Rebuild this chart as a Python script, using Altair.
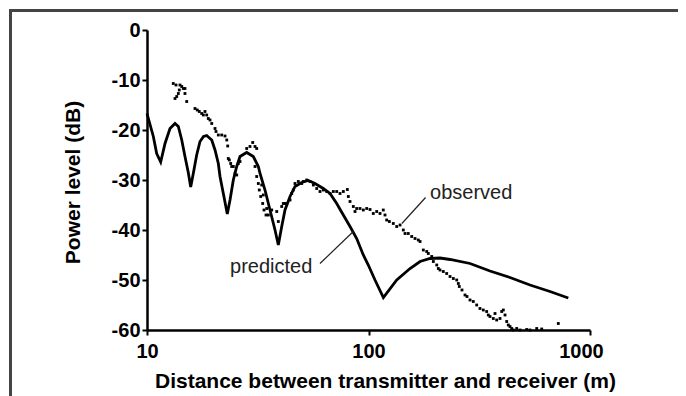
import altair as alt
import pandas as pd

# Predicted (two-ray) curve
pred_d = [10.0, 10.68, 11.06, 11.53, 12.06, 12.70, 13.38, 13.85, 14.35, 14.84, 15.36, 15.75, 16.18, 16.76,
          17.35, 18.0, 18.60, 19.60, 20.28, 20.99, 21.36, 22.11, 23.04, 23.70, 24.53, 25.41, 26.30, 28.19,
          30.20, 31.81, 32.38, 34.10, 35.92, 37.84, 39.16, 40.57, 41.98, 44.23, 46.58, 49.94, 53.47, 57.34,
          62.51, 67.03, 71.86, 76.97, 82.52, 88.45, 94.74, 99.8, 107.0, 116.7, 134.1, 154.0, 170.9, 189.6,
          210.3, 233.4, 287.3, 353.6, 435.3, 535.9, 659.8, 798.1]
pred_db = [-16.7, -21.3, -24.7, -26.4, -22.7, -19.7, -18.7, -19.3, -22.0, -25.3, -28.5, -31.4, -28.7, -25.0,
           -22.3, -21.3, -21.1, -22.0, -24.0, -26.7, -29.3, -32.7, -36.8, -34.0, -30.0, -27.3, -25.3, -24.5,
           -25.3, -27.3, -28.7, -32.0, -36.0, -40.0, -43.0, -39.3, -36.0, -33.3, -31.3, -30.5, -30.1, -30.7,
           -31.7, -32.7, -34.7, -37.0, -39.3, -41.7, -45.0, -47.0, -50.0, -53.5, -50.0, -47.7, -46.3, -45.7,
           -45.6, -45.9, -46.7, -48.2, -49.5, -51.0, -52.3, -53.6]

obs_d = [13.14, 13.52, 14.09, 14.35, 14.58, 14.84, 13.99, 13.85, 13.62, 13.38, 14.84, 15.11,
         16.47, 16.87, 17.22, 17.66, 17.96, 18.27, 18.60, 18.91, 19.25, 19.60,
         20.28, 20.49, 20.99, 21.74, 22.50, 22.91, 23.14, 23.28, 23.53, 23.87, 24.12, 24.53, 24.97, 25.41, 25.84, 26.30,
         28.19, 29.17, 30.01, 30.74, 31.28,
         30.74, 31.28, 31.81, 32.14, 32.61, 33.29, 33.75, 34.46, 35.29, 36.56, 38.52, 39.16, 40.57, 41.98,
         32.95, 33.50, 34.71,
         41.24, 42.73, 44.23, 45.02, 45.77, 46.58, 48.21, 49.94, 50.77, 52.60, 54.44, 56.36, 58.38, 60.40, 62.51,
         64.77, 67.03, 69.36, 71.86, 74.37, 76.97, 80.25, 81.09, 82.52, 85.40, 86.93, 88.45, 91.54, 94.74, 98.15,
         101.6, 105.1, 108.9, 112.7, 116.6, 118.7, 120.8, 124.2,
         129.4, 134.1, 138.8, 143.6, 146.2, 151.2, 156.7, 162.2, 167.8, 170.9, 176.8, 183.2, 186.2, 192.9, 196.2,
         203.3, 206.6, 210.3, 217.6, 225.4, 233.4, 241.5, 250.2, 254.4, 257.0,
         264.3, 272.7, 278.4,
         287.3, 297.2, 307.9, 318.6, 329.8, 341.6, 347.4, 353.6, 365.9, 372.5, 379.1, 392.4, 399.4, 406.1, 413.4,
         420.7, 427.8, 435.4, 443.1, 450.6, 466.8, 483.1, 517.8, 535.9, 574.8, 605.3, 719.3]
obs_db = [-10.7, -11.0, -11.0, -11.3, -11.7, -11.7, -12.0, -12.7, -13.3, -13.7, -12.7, -14.3,
          -15.7, -16.0, -16.3, -16.7, -17.0, -16.3, -17.0, -17.7, -18.0, -18.7,
          -19.7, -20.3, -21.0, -21.0, -21.2, -22.0, -23.2, -25.7, -26.0, -26.7, -27.3, -27.3, -28.7, -29.0, -26.7, -26.3,
          -23.7, -23.3, -22.5, -23.3, -23.7,
          -27.3, -29.3, -30.7, -32.0, -33.3, -34.7, -36.0, -37.0, -37.0, -36.0, -36.3, -38.3, -35.3, -34.7,
          -31.0, -33.0, -35.7,
          -34.7, -34.7, -34.0, -32.7, -32.0, -30.7, -30.3, -30.7, -30.3, -30.0, -30.3, -31.0, -31.7, -32.3, -32.0,
          -32.3, -32.7, -32.3, -32.3, -32.7, -32.3, -31.9, -33.3, -34.3, -35.3, -36.3, -35.7, -35.7, -36.0, -35.7,
          -35.9, -36.7, -36.3, -36.7, -36.0, -37.0, -38.0, -38.3,
          -38.7, -39.3, -39.0, -40.0, -40.7, -40.7, -41.3, -41.7, -42.0, -42.3, -44.0, -44.3, -44.7, -45.3, -46.3,
          -47.0, -47.7, -48.0, -48.3, -48.7, -49.3, -49.7, -50.0, -50.7, -51.3,
          -52.0, -53.0, -53.3,
          -54.0, -54.3, -55.0, -55.7, -56.0, -56.3, -57.0, -57.3, -57.7, -56.7, -58.0, -57.7, -56.3, -56.0, -57.0,
          -58.3, -59.0, -59.3, -59.7, -60.0, -59.7, -60.0, -59.9, -60.0, -59.7, -59.8, -58.7]

x_ticks = [10, 100, 1000]
y_ticks = [0, -10, -20, -30, -40, -50, -60]

# Annotations
label_text = ["observed", "predicted"]
label_d = [189.6, 23.7]
label_db = [-33.8, -48.6]
leader_d1 = [181.0, 60.4]
leader_db1 = [-33.5, -46.7]
leader_d2 = [141.5, 85.4]
leader_db2 = [-38.7, -40.3]

pred = pd.DataFrame({"d": pred_d, "db": pred_db})
obs = pd.DataFrame({"d": obs_d, "db": obs_db})
labels = pd.DataFrame({"d": label_d, "db": label_db, "t": label_text})
leaders = pd.DataFrame({"d": leader_d1, "db": leader_db1, "d2": leader_d2, "db2": leader_db2})

FONT = "Liberation Sans"

x_scale = alt.Scale(type="log", domain=[10, 1000], nice=False)
y_scale = alt.Scale(domain=[-60, 0], nice=False, zero=False)

x_axis = alt.Axis(
    values=x_ticks, labelExpr="'' + datum.value", grid=False, labelFlush=False,
    labelFont=FONT, labelFontWeight="bold", labelFontSize=20, labelColor="black",
    labelPadding=6, labelOffset={"condition": {"test": "datum.value >= 1000", "value": -9}, "value": 0},
    tickSize=5, tickWidth=2, tickColor="black", domainColor="black", domainWidth=2.5,
    title="Distance between transmitter and receiver (m)",
    titleFont=FONT, titleFontWeight="bold", titleFontSize=21, titleColor="black",
    titleX=238, titleY=57, titleBaseline="alphabetic", titleAlign="center",
)
y_axis = alt.Axis(
    values=y_ticks, labelExpr="'' + datum.value", grid=False,
    labelFont=FONT, labelFontWeight="bold", labelFontSize=20, labelColor="black",
    labelPadding=2, tickSize=5, tickWidth=2, tickColor="black", domainColor="black", domainWidth=2.5,
    title="Power level (dB)",
    titleFont=FONT, titleFontWeight="bold", titleFontSize=21, titleColor="black",
    titleX=-68, titleY=152, titleBaseline="alphabetic", titleAlign="center", titleAngle=270,
)

base_x = alt.X("d:Q", scale=x_scale, axis=x_axis)
base_y = alt.Y("db:Q", scale=y_scale, axis=y_axis)

line = alt.Chart(pred).mark_line(color="black", strokeWidth=2.8).encode(x=base_x, y=base_y)
dots = alt.Chart(obs).mark_square(color="black", size=8, opacity=1).encode(
    x=alt.X("d:Q", scale=x_scale), y=alt.Y("db:Q", scale=y_scale))
text = alt.Chart(labels).mark_text(
    font=FONT, fontSize=20, color="#222", align="left", baseline="alphabetic"
).encode(x=alt.X("d:Q", scale=x_scale), y=alt.Y("db:Q", scale=y_scale), text="t:N")
lead = alt.Chart(leaders).mark_rule(color="#222", strokeWidth=1.2).encode(
    x=alt.X("d:Q", scale=x_scale), y=alt.Y("db:Q", scale=y_scale), x2="d2:Q", y2="db2:Q")

# Figure frame (top and left edges visible)
frame_top = alt.Chart(pred).mark_rule(color="#444", strokeWidth=2).encode(
    x=alt.value(-137), x2=alt.value(531), y=alt.value(-19.5))
frame_left = alt.Chart(pred).mark_rule(color="#444", strokeWidth=2).encode(
    x=alt.value(-136.5), y=alt.value(-20.5), y2=alt.value(366))

chart = alt.layer(line, dots, lead, text, frame_top, frame_left).properties(
    width=443, height=300,
    autosize="none",
    padding={"left": 139, "top": 22, "right": 88, "bottom": 66},
    background="white",
).configure_view(stroke=None)

chart.save("out.html", embed_options={"renderer": "svg", "actions": False})
